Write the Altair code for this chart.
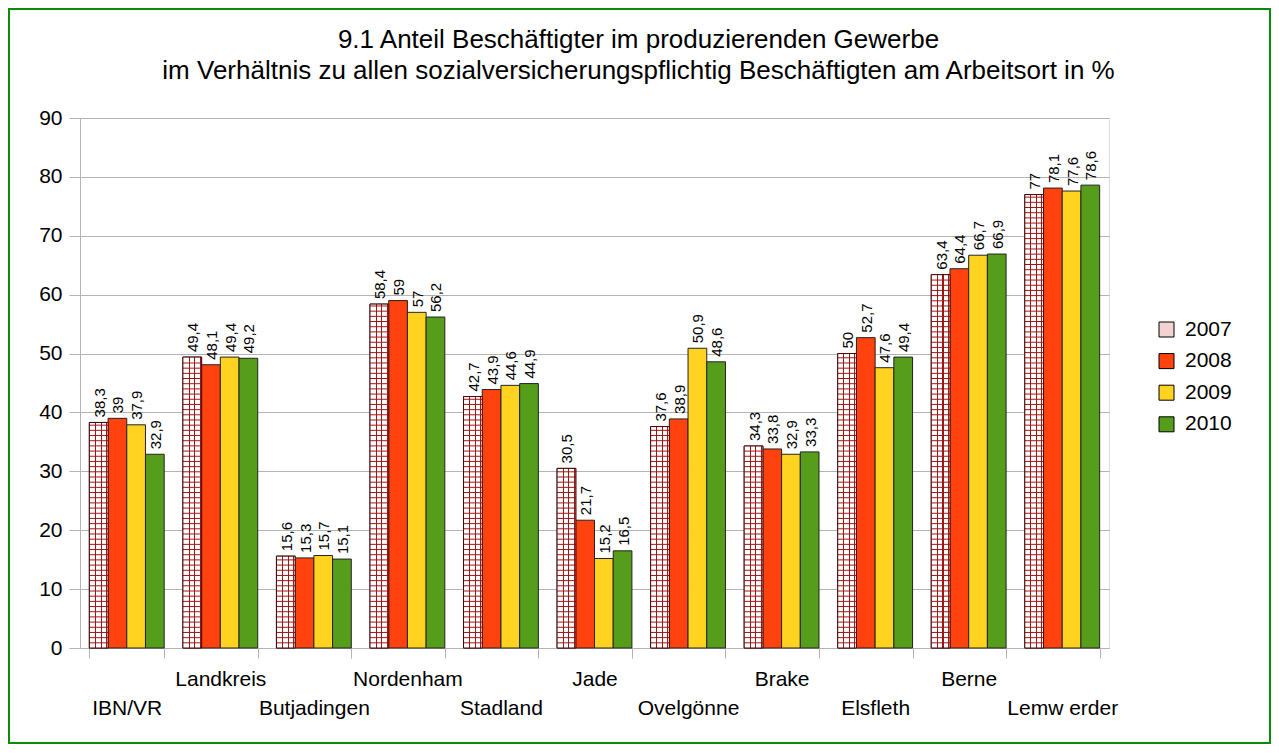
import altair as alt
import pandas as pd
import numpy as np

categories = ["IBN/VR", "Landkreis", "Butjadingen", "Nordenham", "Stadland", "Jade",
              "Ovelgönne", "Brake", "Elsfleth", "Berne", "Lemw erder"]
years = ["2007", "2008", "2009", "2010"]
v2007 = [38.3, 49.4, 15.6, 58.4, 42.7, 30.5, 37.6, 34.3, 50, 63.4, 77]
v2008 = [39, 48.1, 15.3, 59, 43.9, 21.7, 38.9, 33.8, 52.7, 64.4, 78.1]
v2009 = [37.9, 49.4, 15.7, 57, 44.6, 15.2, 50.9, 32.9, 47.6, 66.7, 77.6]
v2010 = [32.9, 49.2, 15.1, 56.2, 44.9, 16.5, 48.6, 33.3, 49.4, 66.9, 78.6]
colors = ["#f3d2d2", "#ff420e", "#ffd320", "#579d1c"]
upper_row = ["Landkreis", "Nordenham", "Jade", "Brake", "Berne"]
title_lines = ["9.1 Anteil Beschäftigter im produzierenden Gewerbe",
               "im Verhältnis zu allen sozialversicherungspflichtig Beschäftigten am Arbeitsort in %"]

FONT = "Liberation Sans"
GRID = "#b3b3b3"
HATCH = "#a01414"

rows = []
for yr, vals in zip(years, [v2007, v2008, v2009, v2010]):
    for c, v in zip(categories, vals):
        rows.append({"cat": c, "year": yr, "value": v,
                     "label": (f"{v:g}").replace(".", ",")})
df = pd.DataFrame(rows)
df07 = df[df.year == "2007"]

# horizontal hatch lines for the 2007 pattern
hatch_rows = []
for c, v in zip(categories, v2007):
    for h in np.arange(0.88, v - 0.2, 0.88):
        hatch_rows.append({"cat": c, "year": "2007", "h": float(h)})
hatch = pd.DataFrame(hatch_rows)

xscale = alt.Scale(domain=categories, paddingInner=0.2, paddingOuter=0.1)
oscale = alt.Scale(domain=years, paddingInner=0, paddingOuter=0)
yscale = alt.Scale(domain=[0, 90], nice=False)

cond_test = "indexof(" + str(upper_row).replace('"', "'") + ", datum.value) >= 0"

x_enc = alt.X("cat:N", scale=xscale, sort=categories,
              axis=alt.Axis(title=None, labelAngle=0, labelFontSize=21, labelFont=FONT,
                            labelColor="black", labelOverlap=False, tickBand="extent",
                            tickSize=10, tickColor=GRID, domainColor=GRID, grid=False,
                            labelPadding={"condition": {"test": cond_test, "value": 10},
                                          "value": 39}))
o_enc = alt.XOffset("year:N", scale=oscale)
y_enc = alt.Y("value:Q", scale=yscale,
              axis=alt.Axis(title=None, values=list(range(0, 91, 10)), labelFontSize=21,
                            labelFont=FONT, labelColor="black", tickSize=11, tickColor=GRID,
                            domainColor=GRID, gridColor=GRID, labelPadding=7))

bars = alt.Chart(df).mark_bar(stroke="#222222", strokeWidth=1).encode(
    x=x_enc, xOffset=o_enc, y=y_enc,
    color=alt.Color("year:N", scale=alt.Scale(domain=years, range=colors),
                    legend=alt.Legend(orient="none", legendX=1076, legendY=201, title=None,
                                      labelFontSize=21, labelFont=FONT, labelColor="black",
                                      symbolType="square", symbolSize=225,
                                      symbolStrokeColor="black", symbolStrokeWidth=1,
                                      symbolOpacity=1, rowPadding=9.6, labelOffset=8,
                                      padding=0))
)

stops = [alt.GradientStop(offset=0, color="#ffffff")]
for f in [0.30, 0.60, 0.89]:
    stops += [alt.GradientStop(offset=f, color="#ffffff"),
              alt.GradientStop(offset=f, color=HATCH),
              alt.GradientStop(offset=f + 0.055, color=HATCH),
              alt.GradientStop(offset=f + 0.055, color="#ffffff")]
stops.append(alt.GradientStop(offset=1, color="#ffffff"))
grad = alt.Gradient(gradient="linear", stops=stops, x1=0, x2=1, y1=0, y2=0)

bars07 = alt.Chart(df07).mark_bar(fill=grad, strokeWidth=0).encode(
    x=alt.X("cat:N", scale=xscale, sort=categories), xOffset=o_enc,
    y=alt.Y("value:Q", scale=yscale)
)

hatch_lines = alt.Chart(hatch).mark_tick(color=HATCH, thickness=1, size=18.5, opacity=1).encode(
    x=alt.X("cat:N", scale=xscale, sort=categories), xOffset=o_enc,
    y=alt.Y("h:Q", scale=yscale)
)

outline07 = alt.Chart(df07).mark_bar(fillOpacity=0, stroke="#4a0000", strokeWidth=1).encode(
    x=alt.X("cat:N", scale=xscale, sort=categories), xOffset=o_enc,
    y=alt.Y("value:Q", scale=yscale)
)

labels = alt.Chart(df).mark_text(angle=270, align="left", baseline="middle", dx=5, dy=1,
                                 fontSize=15, font=FONT, color="black").encode(
    x=alt.X("cat:N", scale=xscale, sort=categories), xOffset=o_enc,
    y=alt.Y("value:Q", scale=yscale), text="label:N"
)

border = alt.Chart(pd.DataFrame({"k": [0]})).mark_rect(
    fillOpacity=0, stroke="#0a8a0a", strokeWidth=2).encode(
    x=alt.value(-71), x2=alt.value(1190), y=alt.value(-109), y2=alt.value(625)
)

chart = alt.layer(bars, bars07, hatch_lines, outline07, labels, border).properties(
    width=1029, height=530,
    autosize=alt.AutoSizeParams(type="none"),
    padding={"left": 72, "top": 110, "right": 162, "bottom": 96},
    title=alt.TitleParams(text=title_lines, fontSize=26, font=FONT, fontWeight="normal",
                          anchor="middle", dx=44, baseline="bottom", lineHeight=31,
                          offset=-102, color="black"),
).configure_view(strokeWidth=0).configure(font=FONT)

chart.save("out.html", embed_options={"renderer": "svg", "actions": False})
